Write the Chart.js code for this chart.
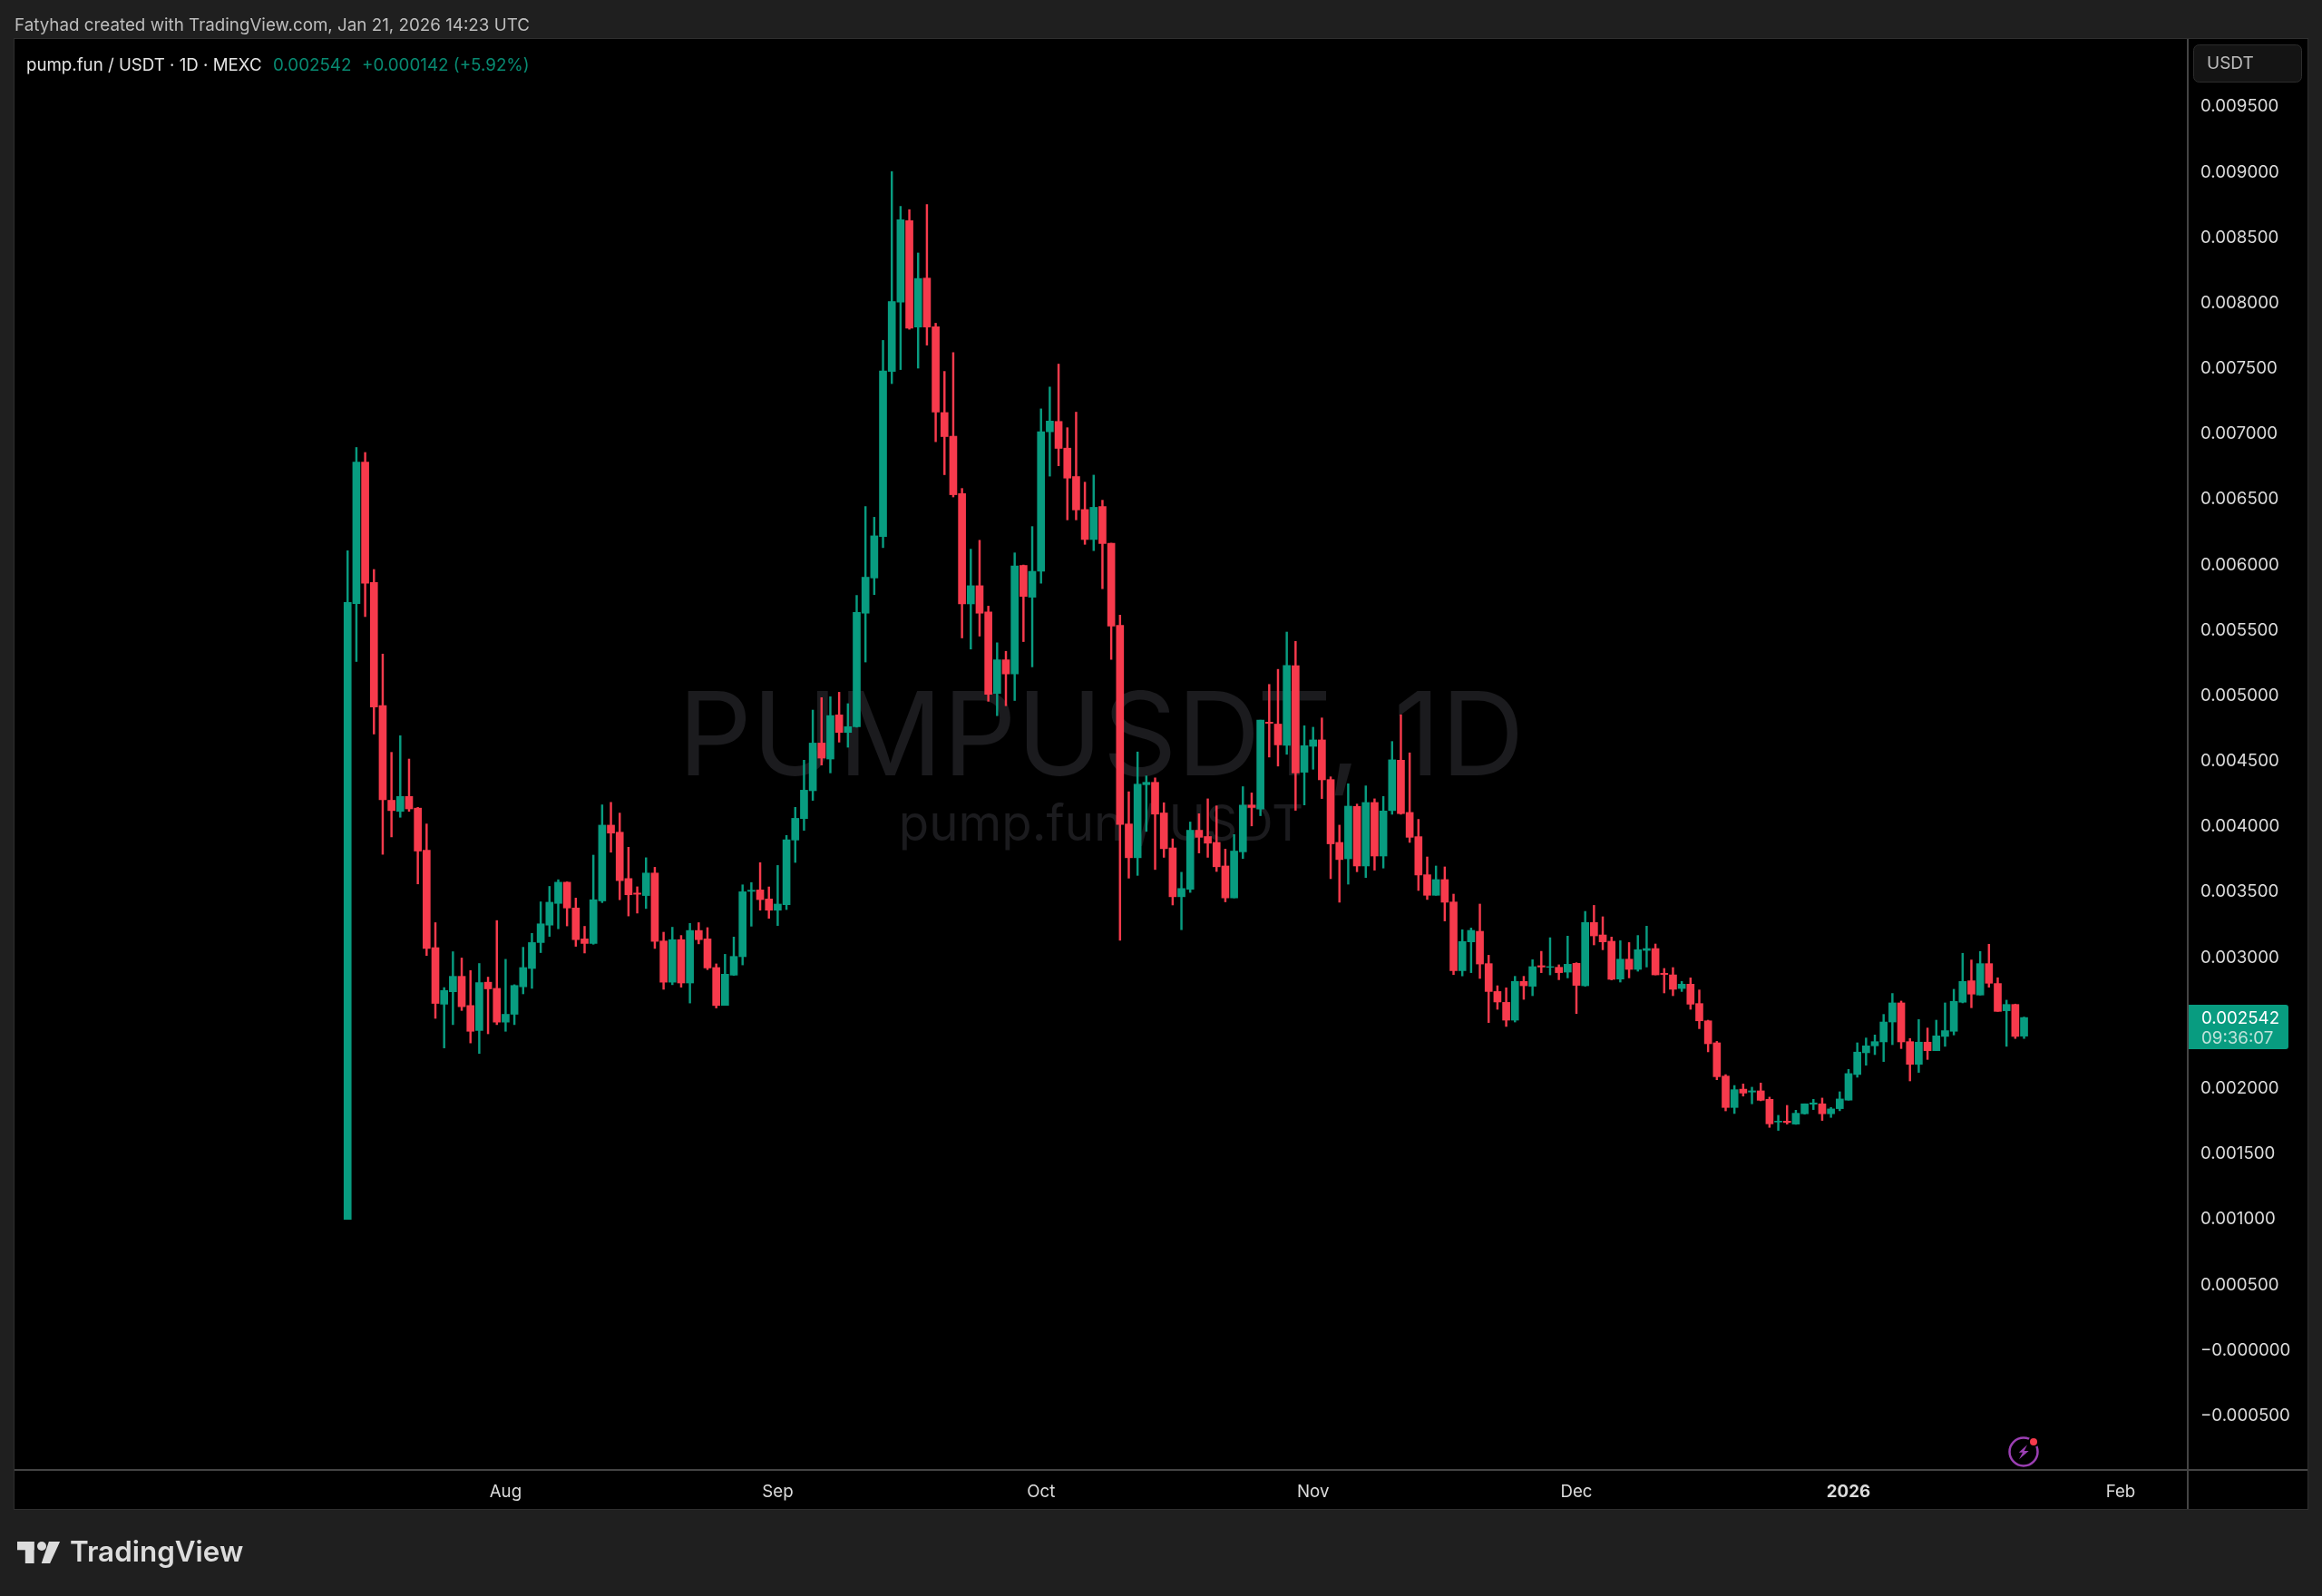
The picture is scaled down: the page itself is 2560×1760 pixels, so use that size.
<!DOCTYPE html>
<html><head><meta charset="utf-8">
<style>html,body{margin:0;padding:0;background:#1f1f1f}canvas{display:block}</style>
<script src="https://cdn.jsdelivr.net/npm/chart.js@4"></script>
</head><body><canvas id="c" width="2560" height="1760"></canvas>
<script>
const firstDate = "2025-07-14";
const opens = [0.001000,0.005704,0.006785,0.005866,0.004925,0.004202,0.004117,0.004231,0.004142,0.003821,0.003076,0.002644,0.002739,0.002857,0.002634,0.002443,0.002812,0.002765,0.002507,0.002567,0.002777,0.002917,0.003115,0.003248,0.003414,0.003576,0.003379,0.003143,0.003108,0.003433,0.004012,0.003958,0.003604,0.003493,0.003474,0.003646,0.003127,0.002812,0.003137,0.002806,0.003207,0.003143,0.002924,0.002635,
0.002866,0.003007,0.003506,0.003517,0.003448,0.003362,0.003404,0.003898,0.004062,0.004275,0.004639,0.004517,0.004854,0.004720,0.004763,0.005631,0.005900,0.006217,0.007478,0.008007,0.008629,0.007817,0.008191,0.007820,0.007164,0.006983,0.006545,0.005702,0.005841,0.005640,0.005018,0.005275,0.005167,0.005996,0.005753,0.005951,0.007017,0.007096,0.006892,0.006675,0.006423,0.006194,0.006446,0.006166,
0.005538,0.004021,0.003763,0.004321,0.004339,0.004105,0.003838,0.003465,0.003522,0.003973,0.003925,0.003880,0.003700,0.003456,0.003808,0.004165,0.004135,0.004799,0.004784,0.004622,0.005231,0.004416,0.004614,0.004663,0.004360,0.003880,0.003755,0.004155,0.003700,0.004185,0.003776,0.004123,0.004508,0.004109,0.003924,0.003633,0.003476,0.003596,0.003425,0.002900,0.003120,0.003201,
0.002954,0.002741,0.002658,0.002522,0.002818,0.002781,0.002938,0.002926,0.002926,0.002889,0.002956,0.002785,0.003268,0.003173,0.003125,0.002836,0.002988,0.002910,0.003055,0.003069,0.002880,0.002868,0.002764,0.002797,0.002649,0.002517,0.002349,0.002095,0.001855,0.001995,0.001973,0.001982,
0.001917,0.001744,0.001751,0.001728,0.001807,0.001880,0.001883,0.001807,0.001846,0.001911,0.002107,0.002273,0.002326,0.002356,0.002508,0.002654,0.002358,0.002185,0.002354,0.002289,0.002398,0.002437,0.002659,0.002823,0.002714,0.002954,0.002802,0.002594,0.002642,0.002400];
const highs = [0.006108,0.006897,0.006859,0.005965,0.005319,0.004568,0.004695,0.004517,0.004148,0.004021,0.003267,0.002771,0.003045,0.002997,0.002901,0.002955,0.002851,0.003283,0.002987,0.002793,0.003079,0.003185,0.003426,0.003544,0.003595,0.003579,0.003455,0.003239,0.003783,0.004167,0.004186,0.004104,0.003843,0.003541,0.003763,0.003690,0.003194,0.003232,0.003169,0.003261,0.003267,0.003229,0.002952,0.003025,
0.003157,0.003556,0.003573,0.003725,0.003540,0.003704,0.003933,0.004148,0.004508,0.004891,0.004986,0.004993,0.005027,0.004940,0.005767,0.006446,0.006364,0.007715,0.009005,0.008739,0.008714,0.008383,0.008753,0.007846,0.007478,0.007622,0.006584,0.006120,0.006188,0.005685,0.005405,0.005340,0.006092,0.005999,0.006293,0.007192,0.007359,0.007534,0.007048,0.007167,0.006632,0.006686,0.006494,0.006166,
0.005616,0.004267,0.004571,0.004388,0.004373,0.004183,0.003907,0.003652,0.004036,0.004099,0.004213,0.004159,0.003829,0.003940,0.004306,0.004258,0.004814,0.005087,0.005202,0.005487,0.005416,0.004771,0.004760,0.004831,0.004381,0.004012,0.004328,0.004173,0.004312,0.004213,0.004231,0.004651,0.004855,0.004564,0.004056,0.003769,0.003700,0.003693,0.003485,0.003213,0.003226,0.003409,
0.003018,0.002785,0.002769,0.002857,0.002857,0.002984,0.003048,0.003152,0.002945,0.003164,0.002961,0.003353,0.003399,0.003312,0.003157,0.003129,0.003115,0.003169,0.003240,0.003104,0.002917,0.002924,0.002818,0.002845,0.002753,0.002522,0.002360,0.002106,0.002023,0.002035,0.002010,0.002042,
0.001934,0.001795,0.001871,0.001834,0.001883,0.001917,0.001927,0.001855,0.001975,0.002146,0.002349,0.002386,0.002409,0.002566,0.002726,0.002668,0.002382,0.002527,0.002462,0.002522,0.002654,0.002758,0.003033,0.002982,0.003047,0.003102,0.002846,0.002675,0.002645,0.002546];
const lows = [0.001000,0.005262,0.005605,0.004708,0.003789,0.003922,0.004072,0.004117,0.003563,0.003016,0.002536,0.002310,0.002488,0.002596,0.002348,0.002268,0.002418,0.002488,0.002437,0.002488,0.002723,0.002765,0.003038,0.003162,0.003220,0.003242,0.003086,0.003035,0.003102,0.003420,0.003805,0.003442,0.003318,0.003340,0.003375,0.003070,0.002758,0.002793,0.002774,0.002653,0.003105,0.002908,0.002615,0.002635,
0.002864,0.002944,0.003240,0.003362,0.003300,0.003245,0.003367,0.003727,0.003972,0.004201,0.004471,0.004411,0.004646,0.004607,0.004760,0.005258,0.005773,0.006132,0.007385,0.007492,0.007800,0.007503,0.007679,0.006941,0.006689,0.006519,0.005442,0.005357,0.005456,0.004958,0.004848,0.004924,0.004964,0.005414,0.005221,0.005860,0.006678,0.006757,0.006344,0.006344,0.006157,0.006109,0.005818,0.005278,
0.003132,0.003607,0.003628,0.003964,0.003673,0.003766,0.003402,0.003213,0.003498,0.003799,0.003766,0.003658,0.003426,0.003456,0.003757,0.004006,0.004084,0.004532,0.004463,0.004553,0.004125,0.004166,0.004439,0.004215,0.003603,0.003423,0.003561,0.003656,0.003612,0.003668,0.003684,0.004095,0.004095,0.003880,0.003513,0.003444,0.003476,0.003280,0.002870,0.002860,0.002885,0.002841,
0.002504,0.002605,0.002474,0.002508,0.002681,0.002709,0.002885,0.002868,0.002831,0.002845,0.002573,0.002781,0.003097,0.003060,0.002829,0.002813,0.002845,0.002896,0.002928,0.002868,0.002730,0.002709,0.002741,0.002605,0.002457,0.002280,0.002067,0.001829,0.001809,0.001942,0.001883,0.001906,
0.001703,0.001680,0.001728,0.001726,0.001804,0.001839,0.001756,0.001779,0.001830,0.001911,0.002086,0.002178,0.002259,0.002206,0.002335,0.002305,0.002058,0.002123,0.002222,0.002289,0.002322,0.002409,0.002654,0.002617,0.002714,0.002774,0.002589,0.002322,0.002382,0.002382];
const closes = [0.005714,0.006785,0.005860,0.004915,0.004206,0.004123,0.004231,0.004136,0.003814,0.003070,0.002650,0.002749,0.002857,0.002625,0.002437,0.002809,0.002761,0.002507,0.002567,0.002787,0.002924,0.003115,0.003258,0.003423,0.003576,0.003379,0.003137,0.003108,0.003442,0.004012,0.003951,0.003588,0.003480,0.003484,0.003646,0.003124,0.002812,0.003137,0.002806,0.003207,0.003137,0.002921,0.002634,0.002873,
0.003009,0.003503,0.003515,0.003443,0.003362,0.003409,0.003900,0.004064,0.004279,0.004639,0.004524,0.004849,0.004720,0.004764,0.005637,0.005906,0.006222,0.007481,0.008012,0.008637,0.007809,0.008188,0.007817,0.007167,0.006980,0.006536,0.005702,0.005841,0.005631,0.005012,0.005275,0.005167,0.005993,0.005759,0.005951,0.007017,0.007099,0.006890,0.006663,0.006420,0.006194,0.006440,0.006163,0.005532,
0.004018,0.003763,0.004325,0.004339,0.004096,0.003832,0.003465,0.003528,0.003973,0.003919,0.003874,0.003694,0.003456,0.003814,0.004165,0.004147,0.004814,0.004790,0.004625,0.005232,0.004411,0.004619,0.004663,0.004358,0.003869,0.003749,0.004157,0.003700,0.004185,0.003776,0.004120,0.004511,0.004100,0.003919,0.003631,0.003476,0.003596,0.003423,0.002900,0.003123,0.003208,0.002951,
0.002741,0.002661,0.002522,0.002818,0.002785,0.002931,0.002928,0.002931,0.002885,0.002949,0.002788,0.003268,0.003166,0.003120,0.002834,0.002988,0.002910,0.003060,0.003069,0.002868,0.002871,0.002758,0.002797,0.002644,0.002517,0.002342,0.002090,0.001855,0.001991,0.001965,0.001982,0.001910,
0.001730,0.001751,0.001740,0.001811,0.001883,0.001890,0.001807,0.001844,0.001920,0.002114,0.002278,0.002326,0.002358,0.002508,0.002654,0.002356,0.002185,0.002354,0.002289,0.002402,0.002442,0.002666,0.002818,0.002721,0.002954,0.002804,0.002589,0.002642,0.002398,0.002542];
const xTickIndex = [18,49,79,110,140,171,202];
const xTickLabels = ["Aug","Sep","Oct","Nov","Dec","2026","Feb"];
const yTickValues = [0.0095,0.009,0.0085,0.008,0.0075,0.007,0.0065,0.006,0.0055,0.005,0.0045,0.004,0.0035,0.003,0.0025,0.002,0.0015,0.001,0.0005,0,-0.0005];
const yTickLabels = ["0.009500","0.009000","0.008500","0.008000","0.007500","0.007000","0.006500","0.006000","0.005500","0.005000","0.004500","0.004000","0.003500","0.003000","0.002500","0.002000","0.001500","0.001000","0.000500","−0.000000","−0.000500"];
const lastPriceLabel = "0.002542";
const countdownLabel = "09:36:07";

const UP = "#089c80", DOWN = "#f73a4c", FONT = "Inter, 'Noto Sans', sans-serif";
const colorOf = i => closes[i] >= opens[i] ? UP : DOWN;
const wicks = lows.map((l,i)=>({x:i,y:[l,highs[i]]}));
const bodies = opens.map((o,i)=>({x:i,y:[o,closes[i]]}));

function text(ctx,s,x,y,font,color,align,base){
  ctx.font=font;ctx.fillStyle=color;ctx.textAlign=align||"left";ctx.textBaseline=base||"middle";ctx.fillText(s,x,y);
}
const frame = {
  id:"frame",
  beforeDraw(chart){
    const c=chart.ctx;c.save();
    c.fillStyle="#1f1f1f";c.fillRect(0,0,2560,1760);
    c.fillStyle="#000";c.fillRect(16,43,2528,1621);
    c.strokeStyle="#2e2e2e";c.lineWidth=1;c.strokeRect(15.5,42.5,2529,1622);
    text(c,"Fatyhad created with TradingView.com, Jan 21, 2026 14:23 UTC",16,28.5,"400 18.8px "+FONT,"#bdbdbd");
    c.restore();
  },
  beforeDatasetsDraw(chart){
    const c=chart.ctx;c.save();
    text(c,"PUMPUSDT, 1D",1214,855,"400 127.6px "+FONT,"#1b1b1e","center","alphabetic");
    text(c,"pump.fun / USDT",1214,927,"400 54.6px "+FONT,"#1b1b1e","center","alphabetic");
    c.restore();
  },
  afterDraw(chart){
    const c=chart.ctx;c.save();
    c.fillStyle="#444";c.fillRect(16,1620,2528,2);c.fillRect(2411,43,2,1621);
    // legend line
    text(c,"pump.fun / USDT · 1D · MEXC",29,72,"400 18.7px "+FONT,"#e4e4e4");
    text(c,"0.002542",301,72,"400 18.8px "+FONT,"#088a72");
    text(c,"+0.000142 (+5.92%)",399,72,"400 18.8px "+FONT,"#088a72");
    // currency box
    c.fillStyle="#141414";c.strokeStyle="#2c2c2c";c.lineWidth=1;
    c.beginPath();c.roundRect(2418.5,49.5,119,41,6);c.fill();c.stroke();
    text(c,"USDT",2433,70,"400 19px "+FONT,"#bdbdbd");
    // last price tag
    c.fillStyle=UP;c.beginPath();c.roundRect(2413,1108,110,49,[0,3,3,0]);c.fill();
    text(c,lastPriceLabel,2427,1123,"400 18.7px "+FONT,"#ffffff");
    text(c,countdownLabel,2427,1145,"400 18.7px "+FONT,"#bfe3da");
    // bolt icon
    c.strokeStyle="#9b3fb3";c.lineWidth=2.5;c.beginPath();c.arc(2231,1601,15.5,0,Math.PI*2);c.stroke();
    c.fillStyle="#9b3fb3";c.beginPath();
    [[2235,1593.3],[2225.7,1601.7],[2230,1601.7],[2226,1609.3],[2236.7,1600],[2231.7,1600]].forEach((p,i)=>i?c.lineTo(p[0],p[1]):c.moveTo(p[0],p[1]));
    c.closePath();c.fill();
    c.fillStyle="#000";c.beginPath();c.arc(2242,1590,6,0,Math.PI*2);c.fill();
    c.fillStyle="#f73a4c";c.beginPath();c.arc(2242,1590,4,0,Math.PI*2);c.fill();
    // logo
    c.fillStyle="#dcdcdc";
    c.fillRect(19,1700,18.6,9.3);c.fillRect(27.8,1700,9.8,24);
    c.beginPath();c.arc(46,1705,5,0,Math.PI*2);c.fill();
    c.beginPath();c.moveTo(53.9,1700);c.lineTo(66.1,1700);c.lineTo(55.1,1724);c.lineTo(45.7,1724);c.closePath();c.fill();
    text(c,"TradingView",77,1713,"600 31.4px "+FONT,"#dcdcdc");
    c.restore();
  }
};

new Chart(document.getElementById("c"),{
  type:"bar",
  data:{datasets:[
    {label:"wick",data:wicks,barThickness:1.8,grouped:false,order:2,borderSkipped:false,
     backgroundColor:ctx=>colorOf(ctx.dataIndex)},
    {label:"body",data:bodies,barThickness:8,grouped:false,order:1,borderSkipped:false,
     backgroundColor:ctx=>colorOf(ctx.dataIndex)}
  ]},
  options:{
    responsive:false,animation:false,
    layout:{padding:{left:16,top:43,right:16,bottom:96}},
    plugins:{legend:{display:false},tooltip:{enabled:false}},
    scales:{
      x:{type:"linear",offset:false,min:-37.95,max:209.65,
        grid:{display:false,drawTicks:false},border:{display:false},
        afterBuildTicks:s=>{s.ticks=xTickIndex.map(v=>({value:v}));},
        afterFit:s=>{s.height=43;},
        ticks:{autoSkip:false,maxRotation:0,padding:13,color:"#dcdcdc",
          callback:(v,i)=>xTickLabels[i],
          font:ctx=>({family:FONT,size:18.7,weight:ctx.index===5?"700":"400"})}},
      y:{type:"linear",position:"right",min:-0.000914,max:0.0100176,
        grid:{display:false,drawTicks:false},border:{display:false},
        afterBuildTicks:s=>{s.ticks=yTickValues.map(v=>({value:v}));},
        afterFit:s=>{s.width=132;},
        ticks:{autoSkip:false,crossAlign:"near",padding:14,color:"#dcdcdc",
          callback:(v,i)=>yTickLabels[i],
          font:{family:FONT,size:18.7}}}
    }
  },
  plugins:[frame]
});
</script></body></html>
